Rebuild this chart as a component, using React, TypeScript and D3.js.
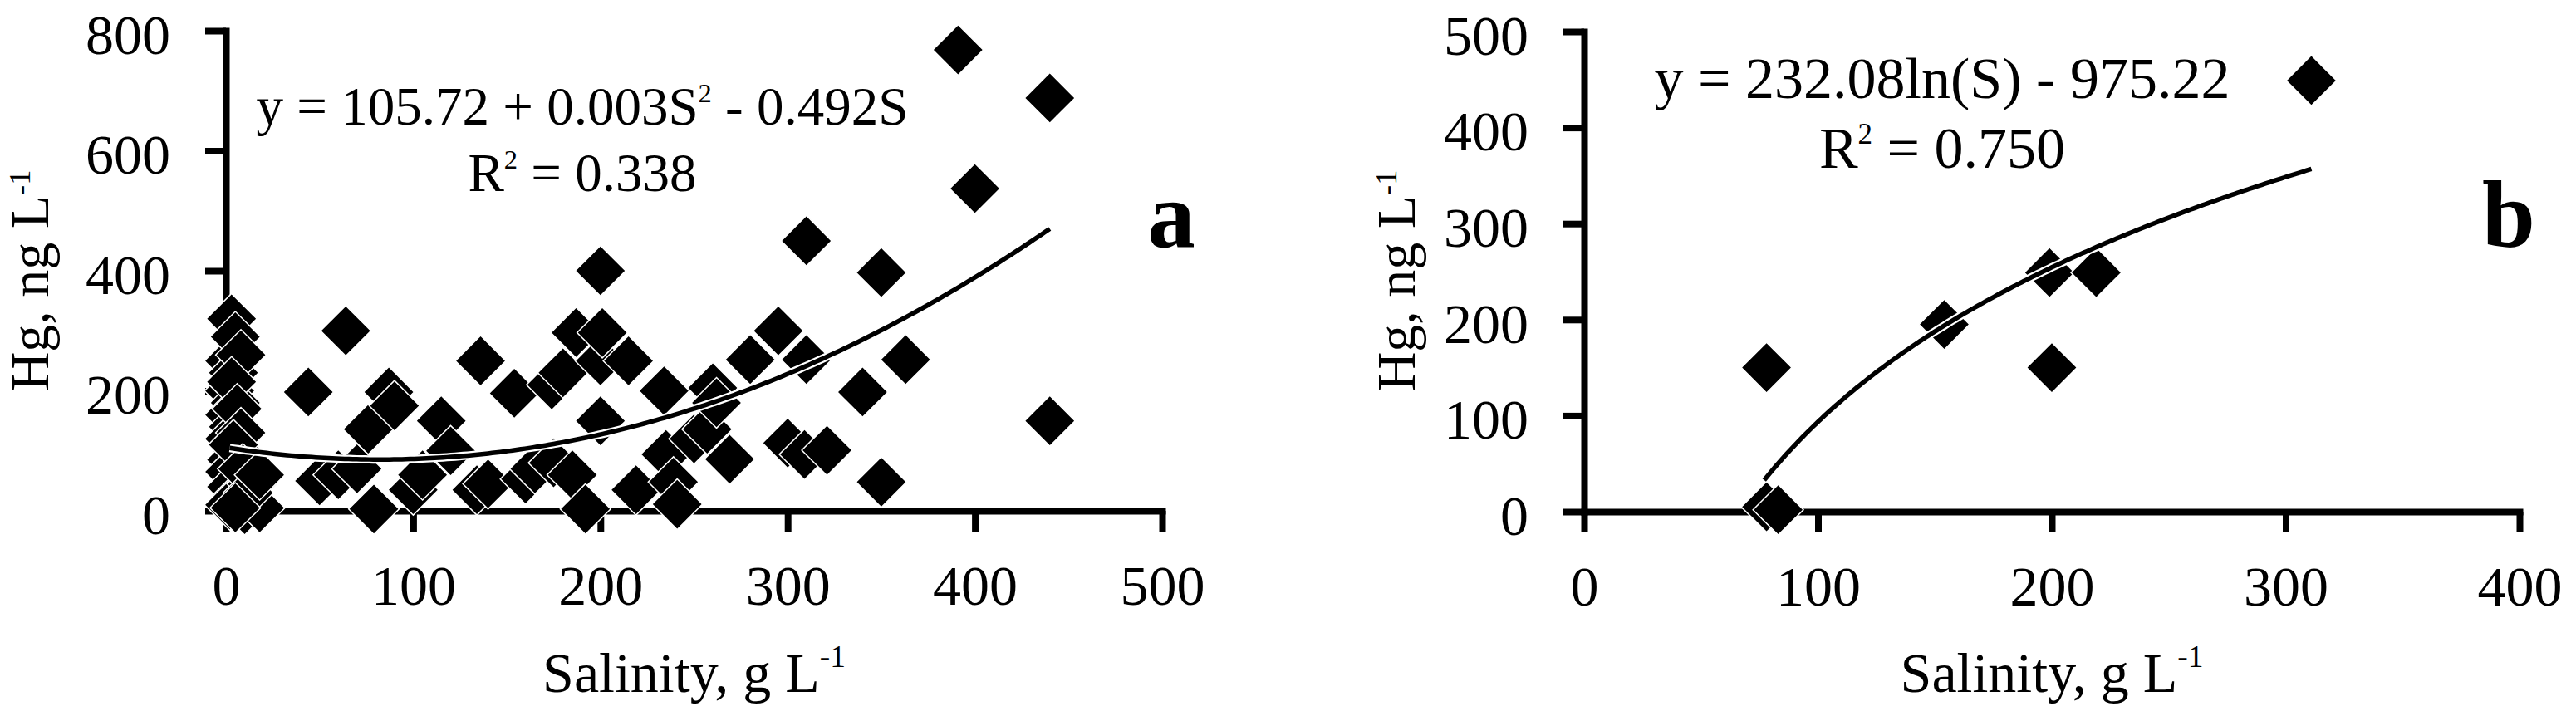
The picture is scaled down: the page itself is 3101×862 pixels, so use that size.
import React, { useEffect, useRef } from 'react';
import * as d3 from 'd3';

// ---------- Panel a data ----------
const salinityA = [
  3, 2, 4, 2, 5, 2, 4, 2, 6, 3, 2, 8, 3, 6, 2, 10, 15, 14, 18,
  5, 8, 3, 6, 8, 4, 9, 12, 5, 18,
  44, 50, 60, 64, 70, 76, 79, 87, 90, 100, 105, 115, 120,
  134, 136, 140, 154, 160, 165, 174, 175, 180, 185, 187, 192,
  200, 200, 200, 201, 215, 219, 234, 235, 239, 241, 250, 257, 260, 262, 269,
  280, 295, 300, 309, 310, 310, 321, 340, 350, 350, 363, 391, 400, 440, 440,
];
const hgA = [
  320, 250, 230, 200, 180, 160, 140, 120, 100, 85, 65, 55, 40, 25, 10, 2, 15, 45, 5,
  290, 260, 215, 170, 130, 110, 70, 30, 5, 60,
  198, 50, 60, 300, 70, 136, 3, 198, 175, 35, 60, 150, 100,
  35, 250, 45, 196, 53, 70, 210, 80, 230, 60, 297, 3,
  150, 250, 400, 297, 250, 35, 200, 94, 48, 11, 120, 136, 205, 180, 86,
  252, 300, 113, 94, 252, 450, 101, 198, 397, 48, 252, 768, 537, 688, 150,
];
const xTicksA = [0, 100, 200, 300, 400, 500];
const yTicksA = [0, 200, 400, 600, 800];

// ---------- Panel b data ----------
const salinityB = [78, 78, 83, 154, 199, 200, 219, 311];
const hgB = [150, 5, 2, 195, 249, 150, 249, 449];
const xTicksB = [0, 100, 200, 300, 400];
const yTicksB = [0, 100, 200, 300, 400, 500];

const SERIF = '"Liberation Serif", "Times New Roman", Times, serif';

type Part = [string, boolean];

function richText(
  g: any, x: number, y: number, size: number, parts: Part[],
  opts: { anchor?: string; rotate?: boolean; supScale?: number; supShift?: number; weight?: string } = {}
) {
  const supScale = opts.supScale ?? 0.55;
  const supShift = opts.supShift ?? size * 0.42;
  const t = g.append('text')
    .attr('font-family', SERIF)
    .attr('font-size', size)
    .attr('font-weight', opts.weight ?? 'normal')
    .attr('text-anchor', opts.anchor ?? 'middle')
    .attr('fill', '#000')
    .style('white-space', 'pre');
  if (opts.rotate) {
    t.attr('transform', `translate(${x},${y}) rotate(-90)`).attr('x', 0).attr('y', 0);
  } else {
    t.attr('x', x).attr('y', y);
  }
  let shifted = false;
  parts.forEach(([s, sup]) => {
    const ts = t.append('tspan').text(s);
    if (sup) {
      ts.attr('font-size', size * supScale).attr('dy', -supShift);
      shifted = true;
    } else if (shifted) {
      ts.attr('dy', supShift);
      shifted = false;
    }
  });
  return t;
}

interface PanelCfg {
  left: number; right: number; top: number; bottom: number;
  xMax: number; yMax: number;
  xTicks: number[]; yTicks: number[];
  sal: number[]; hg: number[];
  fit: (s: number) => number; fitLo: number; fitHi: number;
  eq: Part[]; r2: Part[]; eqSize: number; eqX: number; eqY: number; r2Y: number;
  letter: string; letterX: number; letterY: number;
  yTitleX: number;
}

function drawPanel(svg: any, c: PanelCfg) {
  const x = d3.scaleLinear().domain([0, c.xMax]).range([c.left, c.right]);
  const y = d3.scaleLinear().domain([0, c.yMax]).range([c.bottom, c.top]);
  const g = svg.append('g');

  // axes
  const ax = g.append('g')
    .attr('transform', `translate(0,${c.bottom})`)
    .call(d3.axisBottom(x).tickValues(c.xTicks).tickSize(25).tickSizeOuter(0).tickPadding(40).tickFormat(d3.format('d')));
  const ay = g.append('g')
    .attr('transform', `translate(${c.left},0)`)
    .call(d3.axisLeft(y).tickValues(c.yTicks).tickSize(25).tickSizeOuter(0).tickPadding(42).tickFormat(d3.format('d')));
  [ax, ay].forEach((a) => {
    a.select('.domain').attr('stroke', '#000').attr('stroke-width', 8).attr('stroke-linecap', 'square');
    a.selectAll('.tick line').attr('stroke', '#000').attr('stroke-width', 8);
    a.selectAll('.tick text')
      .attr('font-family', SERIF).attr('font-size', 68).attr('fill', '#000');
  });
  ay.selectAll('.tick text').attr('dy', '0.4em');

  // markers
  const diamond = d3.symbol().type(d3.symbolSquare).size(1850);
  g.append('g').selectAll('path').data(c.sal.map((s, i) => [s, c.hg[i]]))
    .join('path')
    .attr('d', diamond as any)
    .attr('transform', (d: number[]) => `translate(${x(d[0])},${y(d[1])}) rotate(45)`)
    .attr('fill', '#000').attr('stroke', '#fff').attr('stroke-width', 1.5);

  // fit curve
  const pts = d3.range(c.fitLo, c.fitHi + 0.001, (c.fitHi - c.fitLo) / 200).map((s) => [s, c.fit(s)]);
  const line = d3.line().x((d: number[]) => x(d[0])).y((d: number[]) => y(d[1])).curve(d3.curveLinear);
  g.append('path').attr('d', line(pts as any)).attr('fill', 'none').attr('stroke', '#fff').attr('stroke-width', 10);
  g.append('path').attr('d', line(pts as any)).attr('fill', 'none').attr('stroke', '#000').attr('stroke-width', 5.5);

  // equation text
  richText(g, c.eqX, c.eqY, c.eqSize, c.eq, { supScale: 0.5 });
  richText(g, c.eqX, c.r2Y, c.eqSize, c.r2, { supScale: 0.5 });

  // panel letter
  g.append('text').attr('x', c.letterX).attr('y', c.letterY)
    .attr('font-family', SERIF).attr('font-size', 115).attr('font-weight', 'bold')
    .attr('text-anchor', 'middle').attr('fill', '#000').text(c.letter);

  // axis titles
  richText(g, (c.left + c.right) / 2, 833, 68, [['Salinity, g L', false], ['-1', true]], { supShift: 30 });
  richText(g, c.yTitleX, 338, 66, [['Hg, ng L', false], ['-1', true]], { rotate: true, supShift: 22 });
}

export default function App() {
  const ref = useRef<SVGSVGElement | null>(null);
  useEffect(() => {
    const svg = d3.select(ref.current);
    svg.selectAll('*').remove();
    svg.append('rect').attr('width', 3101).attr('height', 862).attr('fill', '#fff');

    drawPanel(svg, {
      left: 272, right: 1399, top: 37, bottom: 615,
      xMax: 500, yMax: 800, xTicks: xTicksA, yTicks: yTicksA,
      sal: salinityA, hg: hgA,
      fit: (s) => 105.72 + 0.003 * s * s - 0.492 * s, fitLo: 2, fitHi: 440,
      eq: [['y = 105.72 + 0.003S', false], ['2', true], [' - 0.492S', false]],
      r2: [['R', false], ['2', true], [' = 0.338', false]],
      eqSize: 65, eqX: 701, eqY: 150, r2Y: 230,
      letter: 'a', letterX: 1410, letterY: 297,
      yTitleX: 58,
    });
    drawPanel(svg, {
      left: 1907, right: 3033, top: 38, bottom: 616,
      xMax: 400, yMax: 500, xTicks: xTicksB, yTicks: yTicksB,
      sal: salinityB, hg: hgB,
      fit: (s) => 232.08 * Math.log(s) - 975.22, fitLo: 77, fitHi: 311,
      eq: [['y = 232.08ln(S) - 975.22', false]],
      r2: [['R', false], ['2', true], [' = 0.750', false]],
      eqSize: 70, eqX: 2338, eqY: 118, r2Y: 202,
      letter: 'b', letterX: 3020, letterY: 297,
      yTitleX: 1703,
    });
  }, []);
  return (
    <svg ref={ref} width={3101} height={862}
      style={{ position: 'absolute', left: 0, top: 0, background: '#fff' }} />
  );
}
